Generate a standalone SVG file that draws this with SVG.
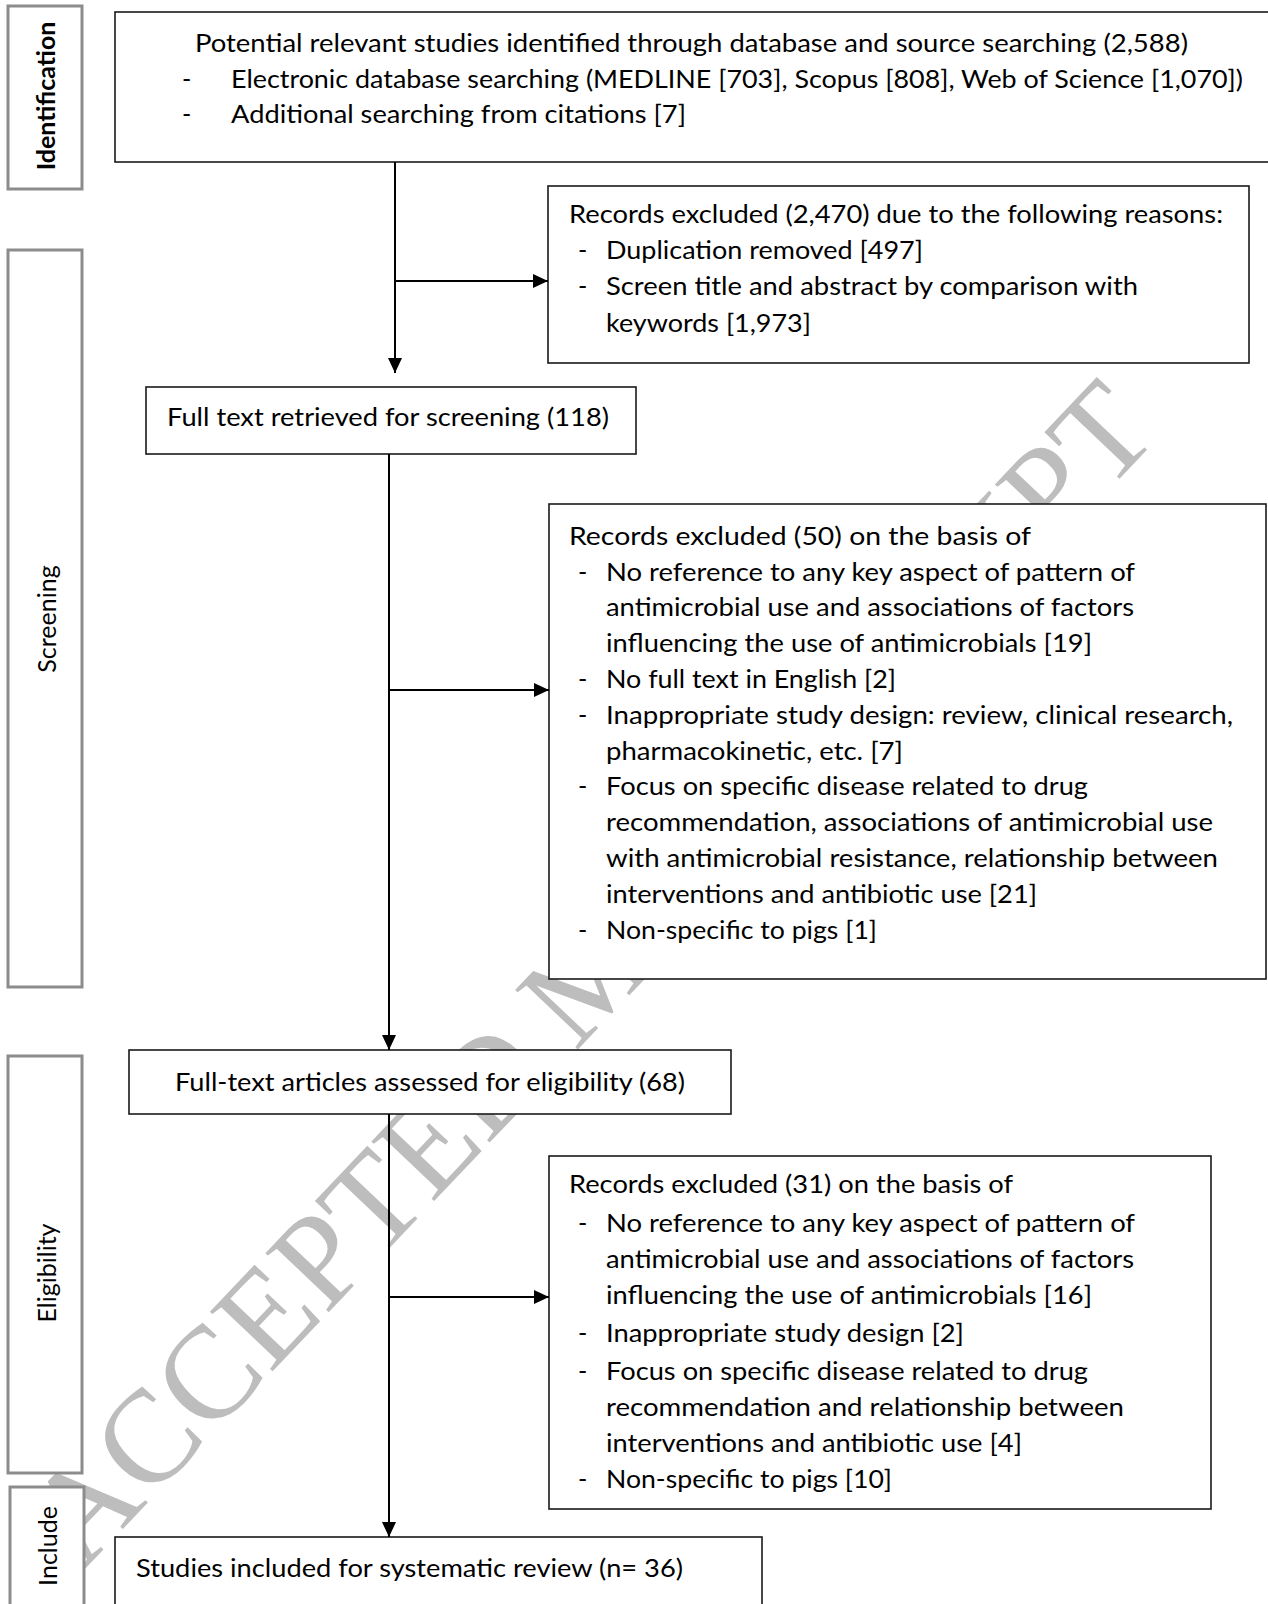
<svg xmlns="http://www.w3.org/2000/svg" width="1268" height="1604" viewBox="0 0 1268 1604">
<style>
.bg{fill:#ffffff}
.box{fill:#ffffff;stroke:#1a1a1a;stroke-width:1.6}
.lab{fill:#ffffff;stroke:#8c8c8c;stroke-width:3}
.t{font-family:Lato,"Open Sans","Liberation Sans",sans-serif;font-size:25px;fill:#000000}
.v{font-family:Lato,"Open Sans","Liberation Sans",sans-serif;font-size:25px;fill:#000000;text-anchor:middle}
.vb{font-weight:bold}
.wm{font-family:"Liberation Serif","Times New Roman",serif;font-size:132px;fill:#bdbdbd;text-anchor:middle}
.ln{fill:none;stroke:#000000;stroke-width:2}
</style>
<defs>
<marker id="ah" markerUnits="userSpaceOnUse" markerWidth="16" markerHeight="14" refX="15" refY="7" orient="auto">
<path d="M0,0 L15,7 L0,14 z" fill="#000000"/>
</marker>
</defs>
<rect class="bg" x="0" y="0" width="1268" height="1604"/>
<g id="watermark">
<text class="wm" transform="translate(622,1003) rotate(-46.5)" x="0" y="0">ACCEPTED MANUSCRIPT</text>
</g>
<g id="stage-identification">
<rect class="lab" x="8" y="6" width="74" height="183"/>
<text class="v vb" transform="translate(55,96) rotate(-90)" x="0" y="0">Identification</text>
</g>
<g id="stage-screening">
<rect class="lab" x="8" y="250" width="74" height="737"/>
<text class="v" transform="translate(56,619) rotate(-90)" x="0" y="0">Screening</text>
</g>
<g id="stage-eligibility">
<rect class="lab" x="8" y="1056" width="74" height="417"/>
<text class="v" transform="translate(56,1273) rotate(-90)" x="0" y="0">Eligibility</text>
</g>
<g id="stage-include">
<rect class="lab" x="10" y="1487" width="74" height="130"/>
<text class="v" transform="translate(57,1546) rotate(-90)" x="0" y="0">Include</text>
</g>
<g id="node-identified">
<rect class="box" x="115" y="12" width="1170" height="150"/>
<text class="t" x="195" y="52" textLength="993" lengthAdjust="spacingAndGlyphs">Potential relevant studies identified through database and source searching (2,588)</text>
<text class="t" x="182" y="88">-</text>
<text class="t" x="231" y="88" textLength="1012" lengthAdjust="spacingAndGlyphs">Electronic database searching (MEDLINE [703], Scopus [808], Web of Science [1,070])</text>
<text class="t" x="182" y="123">-</text>
<text class="t" x="231" y="123" textLength="455" lengthAdjust="spacingAndGlyphs">Additional searching from citations [7]</text>
</g>
<g id="node-excluded-1">
<rect class="box" x="548" y="186" width="701" height="177"/>
<text class="t" x="569" y="223" textLength="654" lengthAdjust="spacingAndGlyphs">Records excluded (2,470) due to the following reasons:</text>
<text class="t" x="578" y="259">-</text>
<text class="t" x="606" y="259" textLength="317" lengthAdjust="spacingAndGlyphs">Duplication removed [497]</text>
<text class="t" x="578" y="295">-</text>
<text class="t" x="606" y="295" textLength="532" lengthAdjust="spacingAndGlyphs">Screen title and abstract by comparison with</text>
<text class="t" x="606" y="332" textLength="205" lengthAdjust="spacingAndGlyphs">keywords [1,973]</text>
</g>
<g id="node-retrieved">
<rect class="box" x="146" y="387" width="490" height="67"/>
<text class="t" x="167" y="426" textLength="442" lengthAdjust="spacingAndGlyphs">Full text retrieved for screening (118)</text>
</g>
<g id="node-excluded-2">
<rect class="box" x="549" y="504" width="717" height="475"/>
<text class="t" x="569" y="545" textLength="462" lengthAdjust="spacingAndGlyphs">Records excluded (50) on the basis of</text>
<text class="t" x="578" y="581">-</text>
<text class="t" x="606" y="581" textLength="529" lengthAdjust="spacingAndGlyphs">No reference to any key aspect of pattern of</text>
<text class="t" x="606" y="616" textLength="528" lengthAdjust="spacingAndGlyphs">antimicrobial use and associations of factors</text>
<text class="t" x="606" y="652" textLength="486" lengthAdjust="spacingAndGlyphs">influencing the use of antimicrobials [19]</text>
<text class="t" x="578" y="688">-</text>
<text class="t" x="606" y="688" textLength="290" lengthAdjust="spacingAndGlyphs">No full text in English [2]</text>
<text class="t" x="578" y="724">-</text>
<text class="t" x="606" y="724" textLength="627" lengthAdjust="spacingAndGlyphs">Inappropriate study design: review, clinical research,</text>
<text class="t" x="606" y="760" textLength="297" lengthAdjust="spacingAndGlyphs">pharmacokinetic, etc. [7]</text>
<text class="t" x="578" y="795">-</text>
<text class="t" x="606" y="795" textLength="482" lengthAdjust="spacingAndGlyphs">Focus on specific disease related to drug</text>
<text class="t" x="606" y="831" textLength="607" lengthAdjust="spacingAndGlyphs">recommendation, associations of antimicrobial use</text>
<text class="t" x="606" y="867" textLength="612" lengthAdjust="spacingAndGlyphs">with antimicrobial resistance, relationship between</text>
<text class="t" x="606" y="903" textLength="431" lengthAdjust="spacingAndGlyphs">interventions and antibiotic use [21]</text>
<text class="t" x="578" y="939">-</text>
<text class="t" x="606" y="939" textLength="271" lengthAdjust="spacingAndGlyphs">Non-specific to pigs [1]</text>
</g>
<g id="node-assessed">
<rect class="box" x="129" y="1050" width="602" height="64"/>
<text class="t" x="175" y="1091" textLength="510" lengthAdjust="spacingAndGlyphs">Full-text articles assessed for eligibility (68)</text>
</g>
<g id="node-excluded-3">
<rect class="box" x="549" y="1156" width="662" height="353"/>
<text class="t" x="569" y="1193" textLength="444" lengthAdjust="spacingAndGlyphs">Records excluded (31) on the basis of</text>
<text class="t" x="578" y="1232">-</text>
<text class="t" x="606" y="1232" textLength="529" lengthAdjust="spacingAndGlyphs">No reference to any key aspect of pattern of</text>
<text class="t" x="606" y="1268" textLength="528" lengthAdjust="spacingAndGlyphs">antimicrobial use and associations of factors</text>
<text class="t" x="606" y="1304" textLength="486" lengthAdjust="spacingAndGlyphs">influencing the use of antimicrobials [16]</text>
<text class="t" x="578" y="1342">-</text>
<text class="t" x="606" y="1342" textLength="358" lengthAdjust="spacingAndGlyphs">Inappropriate study design [2]</text>
<text class="t" x="578" y="1380">-</text>
<text class="t" x="606" y="1380" textLength="482" lengthAdjust="spacingAndGlyphs">Focus on specific disease related to drug</text>
<text class="t" x="606" y="1416" textLength="518" lengthAdjust="spacingAndGlyphs">recommendation and relationship between</text>
<text class="t" x="606" y="1452" textLength="416" lengthAdjust="spacingAndGlyphs">interventions and antibiotic use [4]</text>
<text class="t" x="578" y="1488">-</text>
<text class="t" x="606" y="1488" textLength="286" lengthAdjust="spacingAndGlyphs">Non-specific to pigs [10]</text>
</g>
<g id="node-included">
<rect class="box" x="115" y="1537" width="647" height="80"/>
<text class="t" x="136" y="1577" textLength="547" lengthAdjust="spacingAndGlyphs">Studies included for systematic review (n= 36)</text>
</g>
<g id="connectors">
<line class="ln" x1="395" y1="162" x2="395" y2="373" marker-end="url(#ah)"/>
<line class="ln" x1="395" y1="281" x2="548" y2="281" marker-end="url(#ah)"/>
<line class="ln" x1="389" y1="454" x2="389" y2="1050" marker-end="url(#ah)"/>
<line class="ln" x1="389" y1="690" x2="549" y2="690" marker-end="url(#ah)"/>
<line class="ln" x1="389" y1="1114" x2="389" y2="1537" marker-end="url(#ah)"/>
<line class="ln" x1="389" y1="1297" x2="549" y2="1297" marker-end="url(#ah)"/>
</g>
</svg>
